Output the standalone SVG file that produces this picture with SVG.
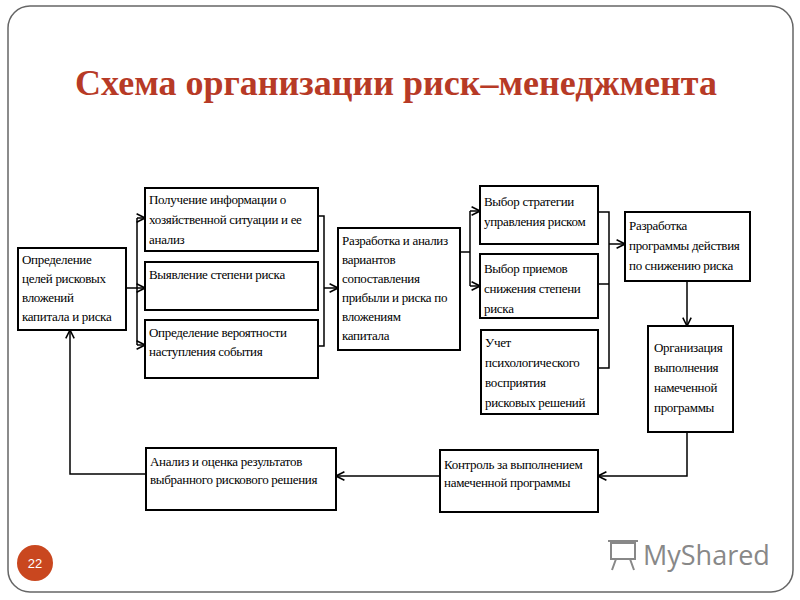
<svg xmlns="http://www.w3.org/2000/svg" width="800" height="600" viewBox="0 0 800 600">
<defs>
<style>
.b{fill:#fff;stroke:#000;stroke-width:2}
.t{font-family:"Liberation Serif",serif;font-size:13px;letter-spacing:-0.3px;fill:#000}
.c{fill:none;stroke:#000;stroke-width:1.5}
</style>
<marker id="a" viewBox="0 0 10 10" refX="9" refY="5" markerWidth="7" markerHeight="7" orient="auto"><path d="M1,1 L9,5 L1,9" fill="none" stroke="#000" stroke-width="1.5"/></marker>
</defs>
<rect width="800" height="600" fill="#fff"/>
<rect x="8" y="6" width="785" height="586" rx="22" fill="#fff" stroke="#666" stroke-width="1.5"/>
<text x="396" y="95" text-anchor="middle" font-family="Liberation Serif,serif" font-size="36" font-weight="bold" fill="#b73a26">Схема организации риск–менеджмента</text>

<g id="connectors">
<path class="c" d="M126,288 H137 M137,218 V345"/>
<path class="c" d="M137,218 H145" marker-end="url(#a)"/>
<path class="c" d="M137,288 H145" marker-end="url(#a)"/>
<path class="c" d="M137,345 H145" marker-end="url(#a)"/>
<path class="c" d="M318,216 H324 V346 H318"/>
<path class="c" d="M324,288 H338" marker-end="url(#a)"/>
<path class="c" d="M460,252 H470 M470,211 V286"/>
<path class="c" d="M470,211 H480" marker-end="url(#a)"/>
<path class="c" d="M470,286 H480" marker-end="url(#a)"/>
<path class="c" d="M598,212 H609 V368 H598 M598,284 H609"/>
<path class="c" d="M609,244 H625" marker-end="url(#a)"/>
<path class="c" d="M687,281 V326" marker-end="url(#a)"/>
<path class="c" d="M687,432 V476 H598" marker-end="url(#a)"/>
<path class="c" d="M440,476 H336" marker-end="url(#a)"/>
<path class="c" d="M146,474 H70 V330" marker-end="url(#a)"/>
</g>

<g id="A"><rect class="b" x="18" y="248" width="108" height="82"/>
<text class="t" x="22" y="264">Определение</text><text class="t" x="22" y="283">целей рисковых</text><text class="t" x="22" y="302">вложений</text><text class="t" x="22" y="321">капитала и риска</text></g>
<g id="B1"><rect class="b" x="145" y="188" width="173" height="63"/>
<text class="t" x="149" y="204">Получение информации о</text><text class="t" x="149" y="224">хозяйственной ситуации и ее</text><text class="t" x="149" y="244">анализ</text></g>
<g id="B2"><rect class="b" x="145" y="262" width="173" height="48"/>
<text class="t" x="149" y="279">Выявление степени риска</text></g>
<g id="B3"><rect class="b" x="145" y="320" width="173" height="58"/>
<text class="t" x="149" y="337">Определение вероятности</text><text class="t" x="149" y="356">наступления события</text></g>
<g id="C"><rect class="b" x="338" y="228" width="122" height="122"/>
<text class="t" x="342" y="245">Разработка и анализ</text><text class="t" x="342" y="264">вариантов</text><text class="t" x="342" y="283">сопоставления</text><text class="t" x="342" y="302">прибыли и риска по</text><text class="t" x="342" y="321">вложениям</text><text class="t" x="342" y="340">капитала</text></g>
<g id="D1"><rect class="b" x="480" y="186" width="118" height="58"/>
<text class="t" x="484" y="206">Выбор стратегии</text><text class="t" x="484" y="226">управления риском</text></g>
<g id="D2"><rect class="b" x="480" y="254" width="118" height="64"/>
<text class="t" x="484" y="273">Выбор приемов</text><text class="t" x="484" y="293">снижения степени</text><text class="t" x="484" y="313">риска</text></g>
<g id="D3"><rect class="b" x="481" y="330" width="117" height="84"/>
<text class="t" x="485" y="347">Учет</text><text class="t" x="485" y="367">психологического</text><text class="t" x="485" y="387">восприятия</text><text class="t" x="485" y="407">рисковых решений</text></g>
<g id="E"><rect class="b" x="625" y="212" width="125" height="69"/>
<text class="t" x="629" y="230">Разработка</text><text class="t" x="629" y="250">программы действия</text><text class="t" x="629" y="270">по снижению риска</text></g>
<g id="F"><rect class="b" x="648" y="326" width="85" height="106"/>
<text class="t" x="654" y="352">Организация</text><text class="t" x="654" y="372">выполнения</text><text class="t" x="654" y="392">намеченной</text><text class="t" x="654" y="412">программы</text></g>
<g id="G"><rect class="b" x="440" y="450" width="158" height="62"/>
<text class="t" x="444" y="469" font-size="12">Контроль за выполнением</text><text class="t" x="444" y="487" font-size="12">намеченной программы</text></g>
<g id="H"><rect class="b" x="146" y="448" width="190" height="62"/>
<text class="t" x="150" y="466" font-size="12">Анализ и оценка результатов</text><text class="t" x="150" y="484" font-size="12">выбранного рискового решения</text></g>

<circle cx="35" cy="563" r="18" fill="#c9471f"/>
<text x="35" y="568" text-anchor="middle" font-family="Liberation Sans,sans-serif" font-size="13" fill="#fff">22</text>
<g fill="none" stroke="#888" stroke-width="2"><rect x="611" y="543" width="24" height="16"/><path d="M608,541 H638 M616,559 L612,570 M630,559 L634,570"/></g>
<text x="643" y="565" font-family="Open Sans,sans-serif" font-size="27" fill="#888">MyShared</text>
</svg>
